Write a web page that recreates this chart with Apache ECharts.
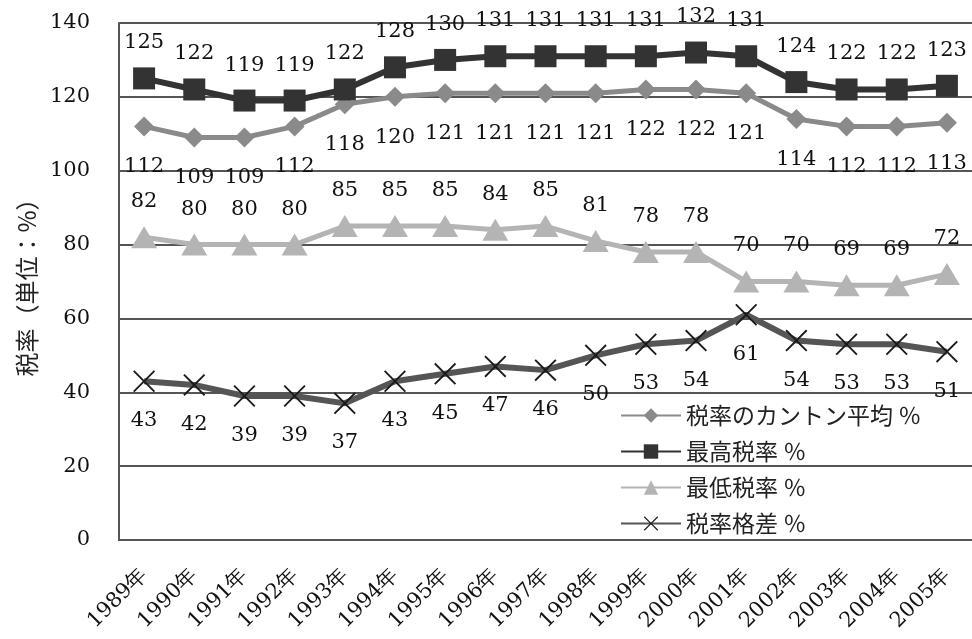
<!DOCTYPE html>
<html>
<head>
<meta charset="utf-8">
<script src="https://cdn.jsdelivr.net/npm/echarts@6/dist/echarts.min.js"></script>
<style>
  html, body { margin: 0; padding: 0; background: #fff; }
  #chart { width: 972px; height: 639px; }
</style>
</head>
<body>
<div id="chart"></div>
<script>
// Years shown on the category axis
const years = ['1989年','1990年','1991年','1992年','1993年','1994年','1995年','1996年','1997年',
  '1998年','1999年','2000年','2001年','2002年','2003年','2004年','2005年'];

// Tax rates per year (%)
const avgRate  = [112,109,109,112,118,120,121,121,121,121,122,122,121,114,112,112,113];
const maxRate  = [125,122,119,119,122,128,130,131,131,131,131,132,131,124,122,122,123];
const minRate  = [82,80,80,80,85,85,85,84,85,81,78,78,70,70,69,69,72];
const rateGap  = [43,42,39,39,37,43,45,47,46,50,53,54,61,54,53,53,51];

const seriesNames = ['税率のカントン平均 ％', '最高税率 ％', '最低税率 ％', '税率格差 ％'];

const serif = '"DejaVu Serif", "Liberation Serif", serif';
const cjk = '"Noto Sans CJK JP", "Noto Sans", sans-serif';
const xSymbol = 'path://M0,1.2L1.2,0L10,8.8L18.8,0L20,1.2L11.2,10L20,18.8L18.8,20L10,11.2L1.2,20L0,18.8L8.8,10Z';

function labelCfg(pos, dist) {
  return {
    show: true, position: pos, distance: dist,
    color: '#111', fontFamily: serif, fontSize: 21
  };
}

const chart = echarts.init(document.getElementById('chart'));
chart.setOption({
  animation: false,
  backgroundColor: '#fff',
  grid: { left: 119, right: 0, top: 23, bottom: 99 },
  legend: {
    orient: 'vertical',
    left: 615, top: 399,
    itemWidth: 60, itemHeight: 18, itemGap: 13,
    textStyle: { fontFamily: cjk, fontSize: 23, color: '#222' },
    data: seriesNames
  },
  xAxis: {
    type: 'category',
    data: years,
    boundaryGap: true,
    axisLine: { show: true, lineStyle: { color: '#555', width: 2 } },
    axisTick: { show: false },
    axisLabel: {
      rotate: 45, margin: 32, interval: 0,
      fontFamily: serif, fontSize: 21, color: '#111'
    }
  },
  yAxis: {
    type: 'value',
    min: 0, max: 140, interval: 20,
    name: '税率（単位：%）',
    nameLocation: 'middle',
    nameGap: 79,
    nameTextStyle: { fontFamily: cjk, fontSize: 24, color: '#222' },
    axisLine: { show: true, lineStyle: { color: '#555', width: 2 } },
    axisTick: { show: false },
    axisLabel: { margin: 29, fontFamily: serif, fontSize: 21, color: '#111' },
    splitLine: { show: true, lineStyle: { color: '#555', width: 2 } }
  },
  series: [
    {
      name: seriesNames[0], type: 'line', data: avgRate,
      symbol: 'diamond', symbolSize: 20,
      lineStyle: { color: '#8a8a8a', width: 5 },
      itemStyle: { color: '#8a8a8a' },
      label: labelCfg('bottom', 20), z: 3
    },
    {
      name: seriesNames[1], type: 'line', data: maxRate,
      symbol: 'rect', symbolSize: 22,
      lineStyle: { color: '#333', width: 6 },
      itemStyle: { color: '#333' },
      label: labelCfg('top', 14), z: 4
    },
    {
      name: seriesNames[2], type: 'line', data: minRate,
      symbol: 'triangle', symbolSize: [26, 22],
      lineStyle: { color: '#b4b4b4', width: 5 },
      itemStyle: { color: '#b4b4b4' },
      label: labelCfg('top', 14), z: 3
    },
    {
      name: seriesNames[3], type: 'line', data: rateGap,
      symbol: xSymbol, symbolSize: 22,
      lineStyle: { color: '#555', width: 6 },
      itemStyle: { color: '#1a1a1a' },
      label: labelCfg('bottom', 18), z: 3
    }
  ]
});
</script>
</body>
</html>
